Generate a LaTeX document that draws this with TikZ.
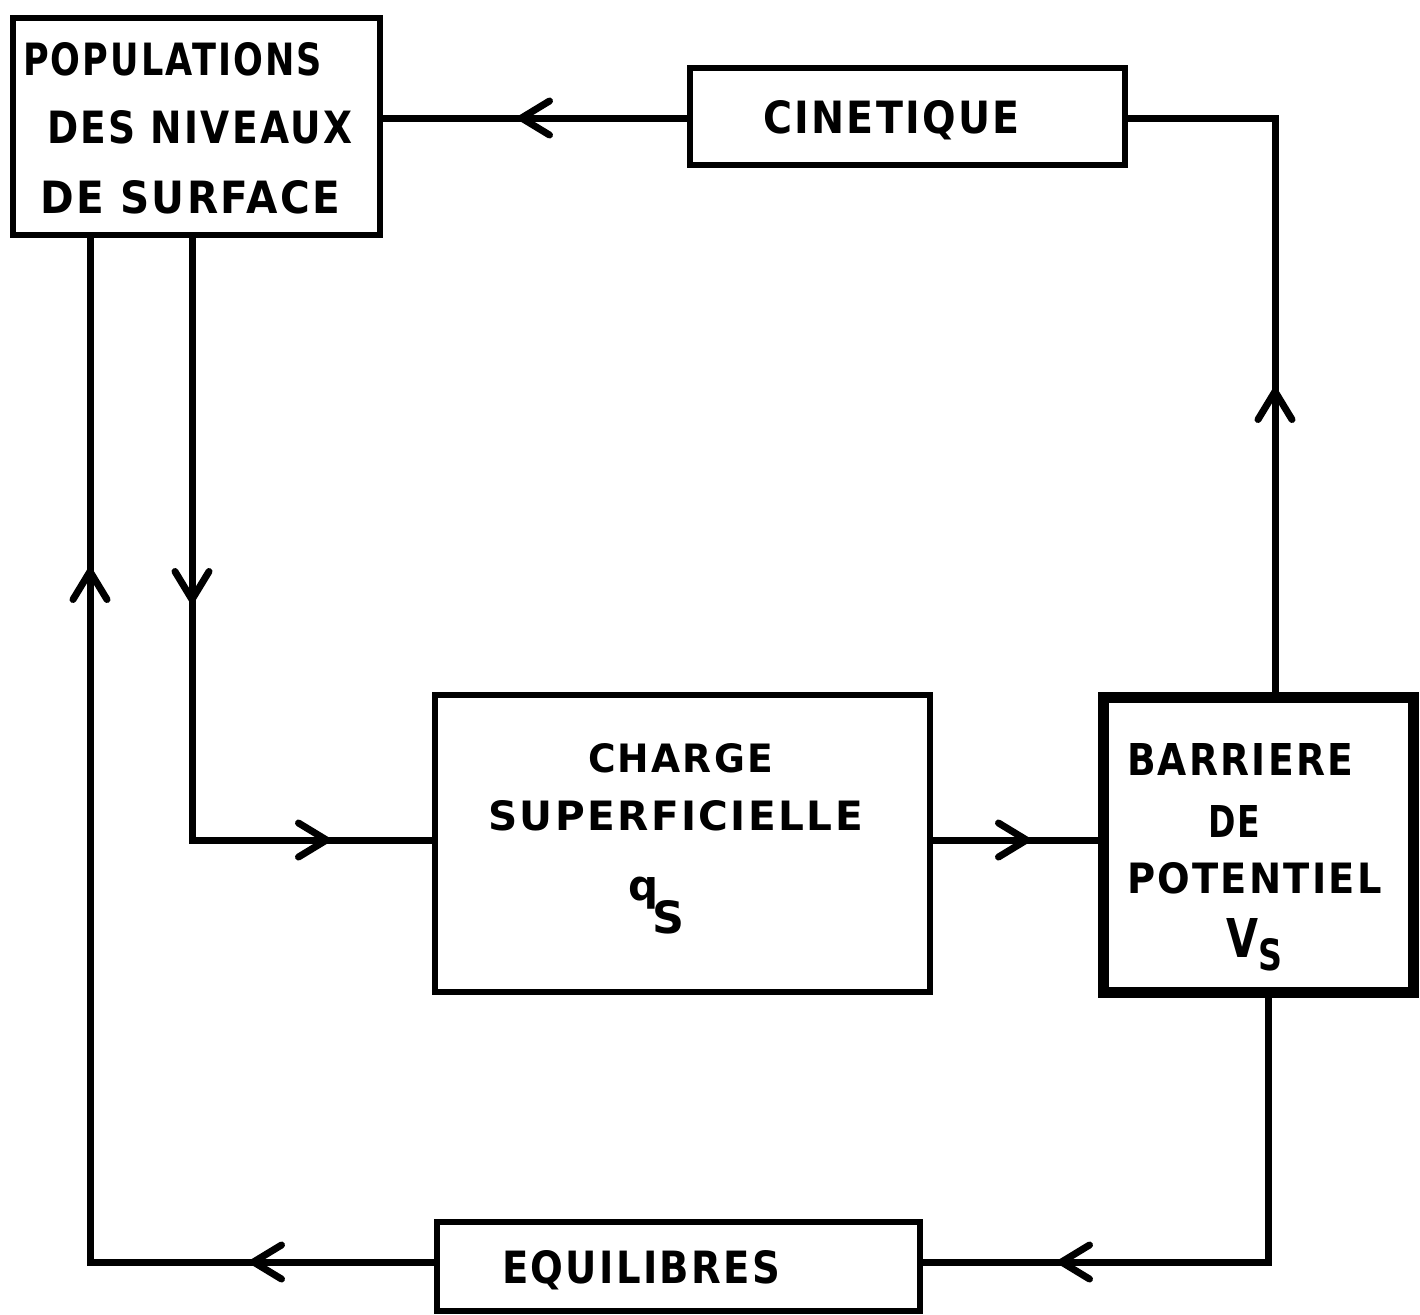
\documentclass[tikz,border=0pt]{standalone}
\usepackage{fontspec}
\usepackage{graphicx}
\usetikzlibrary{arrows.meta,decorations.markings,calc}
\newfontfamily\hand{DejaVu Sans}[LetterSpace=6]
\newfontfamily\handn{DejaVu Sans}
\newcommand\fitt[3]{\resizebox{#1}{#2}{\hand\bfseries #3}}
\newcommand\fitg[3]{\resizebox{#1}{#2}{\handn\bfseries #3}}
\tikzset{
  box/.style={draw, line width=3pt, rectangle, inner sep=0pt, outer sep=0pt},
  thickbox/.style={draw, line width=5.5pt, rectangle, inner sep=0pt, outer sep=0pt},
  txt/.style={inner sep=0pt, outer sep=0pt, anchor=base west},
  conn/.style={draw, line width=3.5pt},
  barbat/.style={postaction={decorate,decoration={markings,
     mark=at position #1 with {\arrow{Straight Barb[length=14pt,width=17pt,line cap=round,line join=round]}}}}}
}
\begin{document}
\begin{tikzpicture}[x=0.5pt,y=-0.5pt]
\useasboundingbox (0,0) rectangle (1420,1314);
\fill[white] (0,0) rectangle (1420,1314);

% boxes
\node[box, minimum width=183.5pt, minimum height=108.5pt] (pop) at (196.5,126.5) {};
\node[box, minimum width=217.5pt, minimum height=48.5pt] (cin) at (907.5,116.5) {};
\node[box, minimum width=247.5pt, minimum height=148.5pt] (chg) at (682.5,843.5) {};
\node[thickbox, minimum width=155pt, minimum height=147.5pt] (bar) at (1258,844.5) {};
\node[box, minimum width=241.5pt, minimum height=44.5pt] (equ) at (678.5,1266.5) {};

% texts
\node[txt] (t1) at (23,75) {\fitt{149.5pt}{16.5pt}{POPULATIONS}};
\node[txt] (t2) at (47,143) {\fitt{152.5pt}{16.5pt}{DES NIVEAUX}};
\node[txt] (t3) at (40,213) {\fitt{150pt}{16.5pt}{DE SURFACE}};
\node[txt] (t4) at (763,133) {\fitt{128.5pt}{16.5pt}{CINETIQUE}};
\node[txt] (t5) at (588,772) {\fitt{92.5pt}{14.5pt}{CHARGE}};
\node[txt] (t6) at (488,830) {\fitt{187.5pt}{15pt}{SUPERFICIELLE}};
\node[txt] (t7) at (628,900) {{\handn\bfseries\fontsize{21pt}{21pt}\selectfont q}\kern-3pt\raisebox{-16.5pt}{\fitg{16pt}{16.5pt}{S}}};
\node[txt] (t8) at (1127,775) {\fitt{113pt}{16pt}{BARRIERE}};
\node[txt] (t9) at (1208,837) {\fitt{26pt}{16pt}{DE}};
\node[txt] (t10) at (1127,893) {\fitt{127.5pt}{15.5pt}{POTENTIEL}};
\node[txt] (t11) at (1226,957) {\fitg{16pt}{19.5pt}{V}\raisebox{-6.5pt}{\fitg{12pt}{16pt}{S}}};
\node[txt] (t12) at (502,1283) {\fitt{139pt}{16.5pt}{EQUILIBRES}};

% connector points
\coordinate (popA) at (90,0 |- pop.south);
\coordinate (popB) at (192,0 |- pop.south);
\coordinate (barT) at (1275,0 |- bar.north);
\coordinate (barB) at (1268,0 |- bar.south);
\coordinate (cinL) at (cin.west |- 0,118);
\coordinate (popR) at (pop.east |- 0,118);
\coordinate (cinR) at (cin.east |- 0,118);
\coordinate (chgL) at (chg.west |- 0,840);
\coordinate (chgR) at (chg.east |- 0,840);
\coordinate (barL) at (bar.west |- 0,840);
\coordinate (equR) at (equ.east |- 0,1262);
\coordinate (equL) at (equ.west |- 0,1262);

% connectors
\path[conn, barbat=86pt] (cinL) -- (popR);
\path[conn, barbat=154.5pt] (barT) |- (cinR);
\path[conn, barbat=184pt, barbat=371.5pt] (popB) |- (chgL);
\path[conn, barbat=50pt] (chgR) -- (barL);
\path[conn, barbat=240pt] (barB) |- (equR);
\path[conn, barbat=93.5pt, barbat=520.5pt] (equL) -| (popA);
\end{tikzpicture}
\end{document}
